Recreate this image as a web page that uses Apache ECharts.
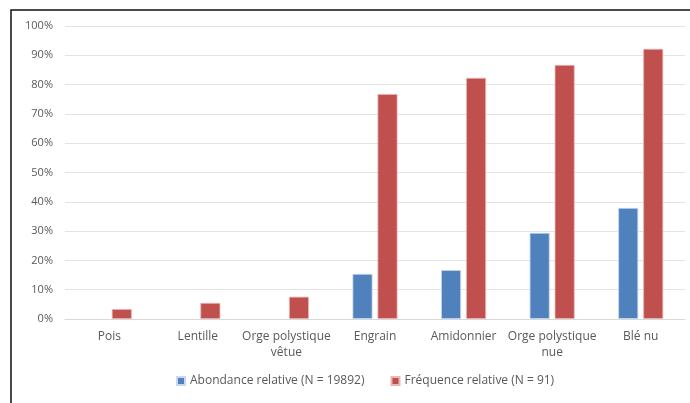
<!DOCTYPE html>
<html><head><meta charset="utf-8">
<script src="https://cdn.jsdelivr.net/npm/echarts@6/dist/echarts.min.js"></script>
<style>html,body{margin:0;padding:0;background:#fff}#c{width:690px;height:403px}</style>
</head><body><div id="c"></div>
<script>
const categories = ['Pois', 'Lentille', 'Orge polystique\nvêtue', 'Engrain', 'Amidonnier', 'Orge polystique\nnue', 'Blé nu'];
const abondance = [null, null, null, 15.4, 16.7, 29.4, 37.9];
const frequence = [3.4, 5.5, 7.6, 76.8, 82.3, 86.7, 92.2];
const seriesNames = ['Abondance relative (N = 19892)', 'Fréquence relative (N = 91)'];

const chart = echarts.init(document.getElementById('c'));
const font = '"Open Sans", "Noto Sans", sans-serif';
chart.setOption({
  animation: false,
  textStyle: { fontFamily: font },
  graphic: [{ type: 'rect', shape: { x: 11, y: 10, width: 700, height: 420 }, style: { fill: 'none', stroke: '#111', lineWidth: 1.5 }, silent: true }],
  grid: { left: 65, right: 5, top: 26, bottom: 84 },
  legend: {
    bottom: 11, left: 171, itemWidth: 8, itemHeight: 8, itemGap: 26, icon: 'rect',
    textStyle: { color: '#595959', fontSize: 12, fontFamily: font },
    data: seriesNames
  },
  xAxis: {
    type: 'category', data: categories,
    axisLine: { lineStyle: { color: '#d9d9d9' } }, axisTick: { show: false },
    axisLabel: { color: '#595959', fontSize: 12, interval: 0, margin: 10, lineHeight: 16 }
  },
  yAxis: {
    type: 'value', min: 0, max: 100, interval: 10,
    axisLine: { show: false }, axisTick: { show: false },
    splitLine: { lineStyle: { color: '#e3e3e3' } },
    axisLabel: { color: '#595959', fontSize: 11, formatter: '{value}%', margin: 12 }
  },
  series: [
    { name: seriesNames[0], type: 'bar', data: abondance, barWidth: 20, barGap: '25%',
      itemStyle: { color: '#4F81BD', borderColor: '#c9d8ee', borderWidth: 0.8 } },
    { name: seriesNames[1], type: 'bar', data: frequence, barWidth: 20,
      itemStyle: { color: '#C0504D', borderColor: '#e8b6b5', borderWidth: 0.8 } }
  ]
});
</script></body></html>
